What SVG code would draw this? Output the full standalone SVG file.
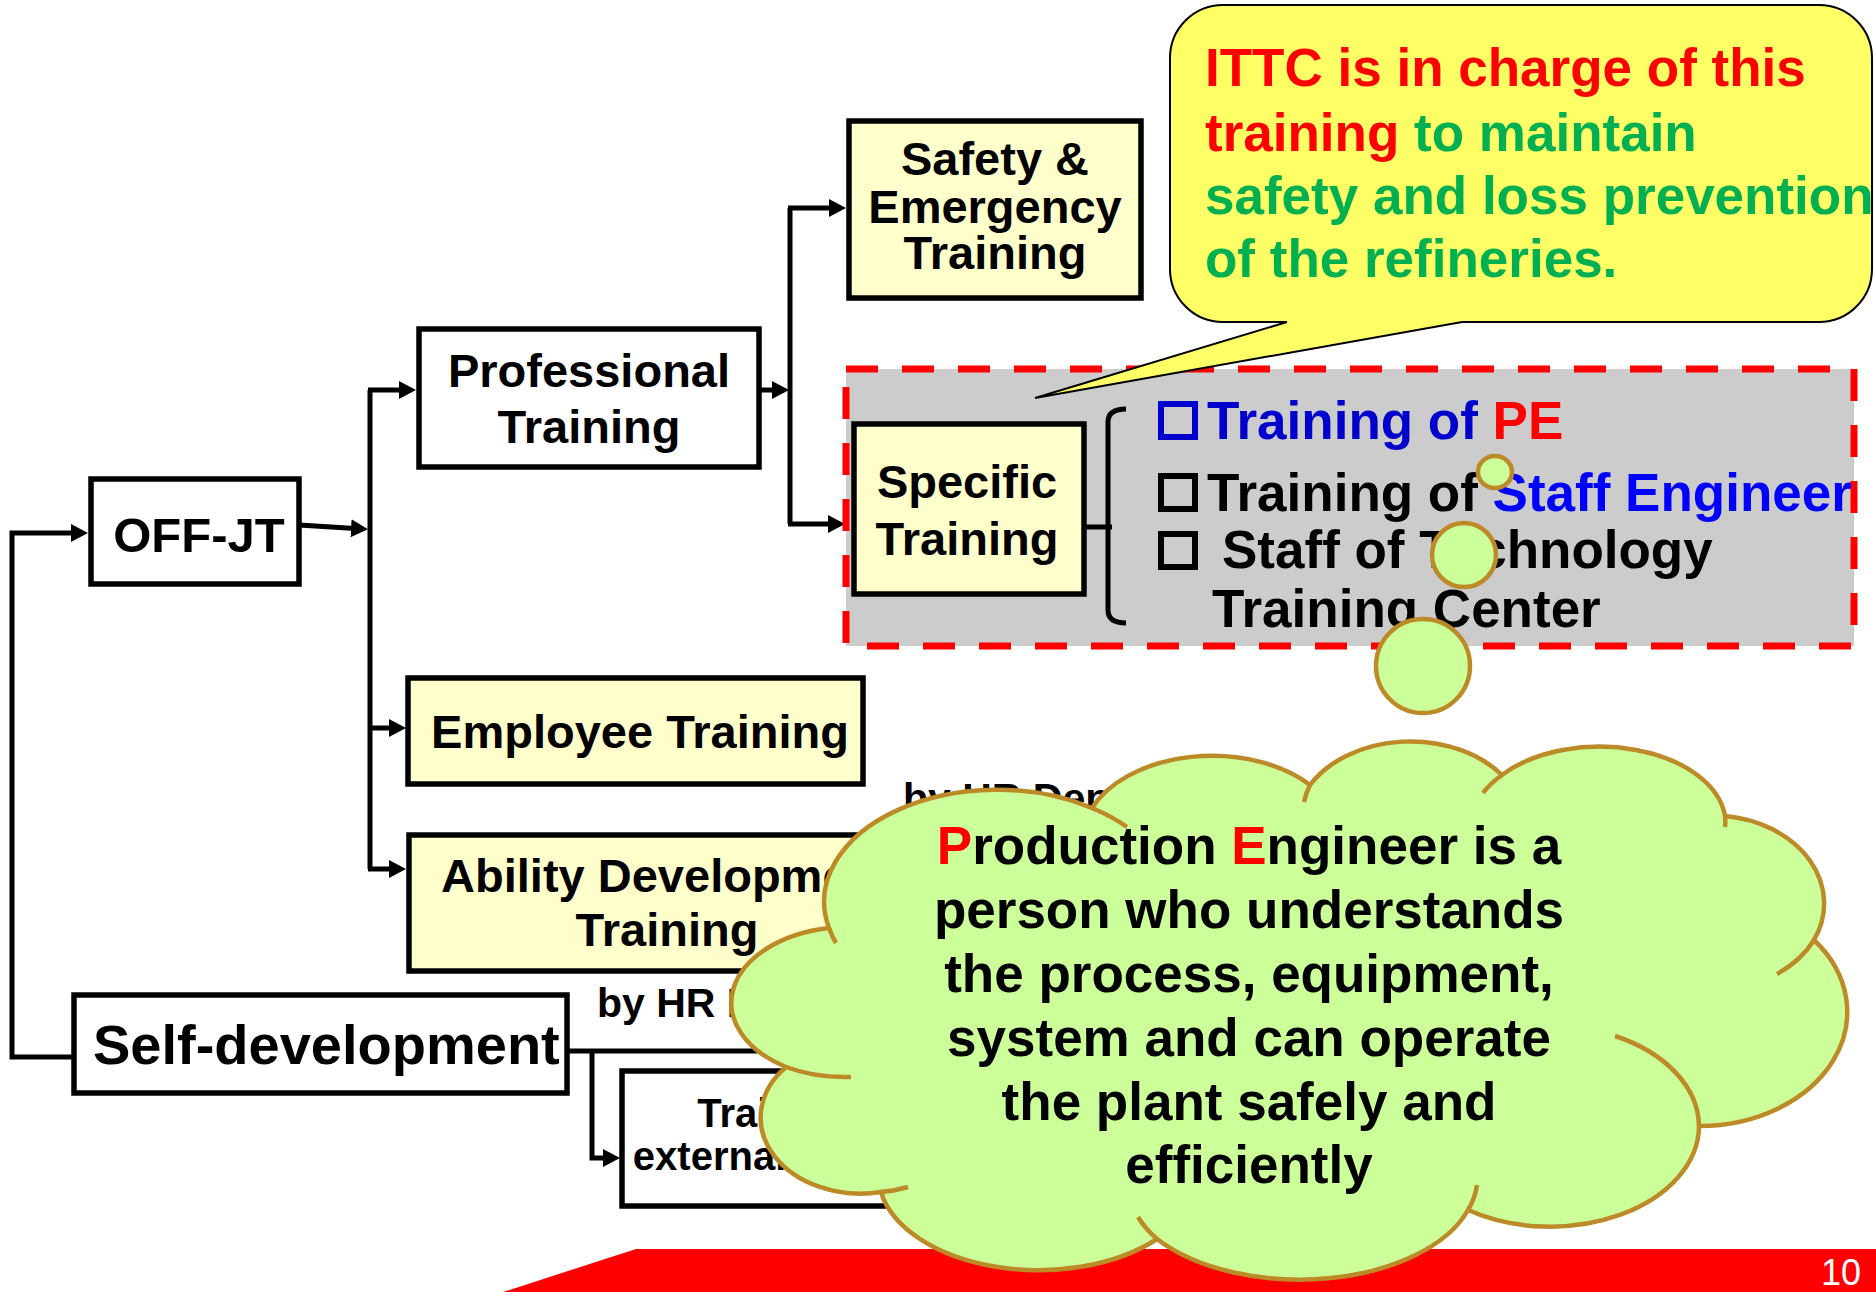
<svg xmlns="http://www.w3.org/2000/svg" width="1876" height="1292" viewBox="0 0 1876 1292">
  <defs>
    <marker id="arrow" markerUnits="userSpaceOnUse" markerWidth="18" markerHeight="18" refX="12" refY="9" orient="auto">
      <path d="M0,0 L17,9 L0,18 Z" fill="#000"/>
    </marker>
  </defs>
  <style>
    .box { stroke: #000; stroke-width: 5.5; }
    .plain { fill: #FFFFFF; }
    .pale { fill: #FFFFCC; }
    .lbl { font-family: "Liberation Sans", Arial, sans-serif; font-weight: bold; fill: #000; }
    .conn { fill: none; stroke: #000; stroke-width: 5; }
    .bubble { fill: #CCFF99; stroke: #BC8A27; stroke-width: 4.5; }
    .seam { fill: none; stroke: #BC8A27; stroke-width: 4.5; }
    .red { fill: #FF0000; }
    .green { fill: #00B050; }
  </style>

  <rect x="0" y="0" width="1876" height="1292" fill="#FFFFFF"/>

  <!-- footer band -->
  <polygon points="503,1292 636,1249 1876,1249 1876,1292" fill="#FF0000"/>

  <!-- connectors -->
  <g id="connectors">
    <path class="conn" d="M 74 1057 H 12 V 533 H 83" marker-end="url(#arrow)"/>
    <path class="conn" d="M 299 525 L 363 529" marker-end="url(#arrow)"/>
    <path class="conn" d="M 370 869 V 390"/>
    <path class="conn" d="M 368 390 H 411" marker-end="url(#arrow)"/>
    <path class="conn" d="M 368 728 H 401" marker-end="url(#arrow)"/>
    <path class="conn" d="M 368 869 H 401" marker-end="url(#arrow)"/>
    <path class="conn" d="M 759 390 H 784" marker-end="url(#arrow)"/>
    <path class="conn" d="M 790 524 V 208"/>
    <path class="conn" d="M 788 208 H 841" marker-end="url(#arrow)"/>
    <path class="conn" d="M 788 524 H 840" marker-end="url(#arrow)"/>
    <path class="conn" d="M 567 1051 H 820"/>
    <path class="conn" d="M 592 1051 V 1158 H 615" marker-end="url(#arrow)"/>
  </g>

  <!-- OFF-JT -->
  <g id="off-jt">
    <rect class="box plain" x="91" y="479" width="208" height="105"/>
    <text class="lbl" x="199" y="552" font-size="49" text-anchor="middle">OFF-JT</text>
  </g>

  <!-- Professional Training -->
  <g id="professional-training">
    <rect class="box plain" x="419" y="329" width="340" height="138"/>
    <text class="lbl" x="589" y="387" font-size="47" text-anchor="middle">Professional</text>
    <text class="lbl" x="589" y="443" font-size="47" text-anchor="middle">Training</text>
  </g>

  <!-- Safety & Emergency Training -->
  <g id="safety-emergency-training">
    <rect class="box pale" x="849" y="121" width="292" height="177"/>
    <text class="lbl" x="995" y="175" font-size="47" text-anchor="middle">Safety &amp;</text>
    <text class="lbl" x="995" y="223" font-size="47" text-anchor="middle">Emergency</text>
    <text class="lbl" x="995" y="269" font-size="47" text-anchor="middle">Training</text>
  </g>

  <!-- Specific Training area -->
  <g id="specific-area">
    <rect x="846" y="369" width="1008" height="277" fill="#CCCCCC" stroke="#FF0000" stroke-width="7" stroke-dasharray="32 24"/>
  </g>

  <g id="specific-training">
    <rect class="box pale" x="854" y="424" width="230" height="170"/>
    <text class="lbl" x="967" y="498" font-size="47" text-anchor="middle">Specific</text>
    <text class="lbl" x="967" y="555" font-size="47" text-anchor="middle">Training</text>
    <path class="conn" d="M 1084 527 H 1112"/>
    <path d="M 1126 409 Q 1108 409 1108 422 V 610 Q 1108 623 1126 623" fill="none" stroke="#000" stroke-width="5"/>
  </g>

  <g id="specific-items">
    <rect x="1161" y="404" width="34" height="33" fill="none" stroke="#0000CC" stroke-width="6"/>
    <text class="lbl" x="1207" y="439" font-size="53"><tspan fill="#0000CC">Training of </tspan><tspan fill="#FF0000">PE</tspan></text>
    <rect x="1161" y="476" width="34" height="33" fill="none" stroke="#000" stroke-width="6"/>
    <text class="lbl" x="1207" y="511" font-size="53">Training of <tspan fill="#0000FF">Staff Engineer</tspan></text>
    <rect x="1161" y="534" width="34" height="33" fill="none" stroke="#000" stroke-width="6"/>
    <text class="lbl" x="1222" y="568" font-size="53">Staff of Technology</text>
    <text class="lbl" x="1212" y="627" font-size="53">Training Center</text>
  </g>

  <!-- Employee Training -->
  <g id="employee-training">
    <rect class="box pale" x="408" y="678" width="455" height="106"/>
    <text class="lbl" x="640" y="748" font-size="47" text-anchor="middle">Employee Training</text>
  </g>

  <text class="lbl" x="903" y="812" font-size="41">by HR Dept.</text>

  <!-- Ability Development Training -->
  <g id="ability-development-training">
    <rect class="box pale" x="409" y="835" width="516" height="136"/>
    <text class="lbl" x="667" y="892" font-size="47" text-anchor="middle">Ability Development</text>
    <text class="lbl" x="667" y="946" font-size="47" text-anchor="middle">Training</text>
  </g>

  <!-- Self-development -->
  <g id="self-development">
    <rect class="box plain" x="74" y="995" width="493" height="98"/>
    <text class="lbl" x="93" y="1064" font-size="56">Self-development</text>
  </g>

  <text class="lbl" x="597" y="1017" font-size="41">by HR Dept.</text>

  <!-- External training -->
  <g id="external-training">
    <rect class="box plain" x="622" y="1071" width="364" height="135"/>
    <text class="lbl" x="804" y="1127" font-size="40" text-anchor="middle">Training by</text>
    <text class="lbl" x="804" y="1170" font-size="40" text-anchor="middle">external institutes</text>
  </g>

  <!-- ITTC callout -->
  <g id="ittc-callout">
    <path d="M 1223 5 H 1819 A 53 53 0 0 1 1872 58 V 269 A 53 53 0 0 1 1819 322 H 1462 L 1035 398 L 1287 322 H 1223 A 53 53 0 0 1 1170 269 V 58 A 53 53 0 0 1 1223 5 Z" fill="#FFFF66" stroke="#000" stroke-width="2"/>
    <text class="lbl red" x="1205" y="86" font-size="53">ITTC is in charge of this</text>
    <text class="lbl" x="1205" y="151" font-size="53"><tspan class="red">training</tspan><tspan class="green"> to maintain</tspan></text>
    <text class="lbl green" x="1205" y="214" font-size="53">safety and loss prevention</text>
    <text class="lbl green" x="1205" y="277" font-size="53">of the refineries.</text>
  </g>

  <!-- thought bubble: three small puffs and the cloud, built from eleven elliptical lobes -->
  <g id="pe-thought">
    <ellipse class="bubble" cx="1495" cy="472" rx="17" ry="16"/>
    <circle class="bubble" cx="1464" cy="555" r="32"/>
    <circle class="bubble" cx="1423" cy="666" r="47"/>
    <path class="bubble" d="M 829 928
      A 173 112 0 0 1 1092 808
      A 130 85 0 0 1 1310 785
      A 115 85 0 0 1 1502 775
      A 126 77 0 0 1 1725 816
      A 112 88 0 0 1 1814 940
      A 148 114 0 0 1 1699 1126
      A 149 101 0 0 1 1468 1210
      C 1447.8 1245.8 1393.8 1272.2 1328.2 1278.3
      C 1262.6 1284.4 1196.5 1269.2 1157 1239
      C 1116 1265.8 1053 1276.5 994.4 1266.5
      C 935.8 1256.5 891.8 1227.6 881 1192
      A 100 76 0 0 1 786 1067
      A 118 76 0 0 1 829 928 Z"/>
    <!-- inner lobe seams -->
    <path class="seam" d="M 836 943 A 173 112 0 0 1 829 928 M 1092 808 A 173 112 0 0 1 1127 827 M 1304 802 A 115 85 0 0 1 1310 785 M 1483 793 A 126 77 0 0 1 1502 775 M 1725 816 A 126 77 0 0 1 1725 827 M 1814 940 A 112 88 0 0 1 1777 974 M 1615 1036 A 149 101 0 0 1 1699 1126 M 1477 1185 A 177 100 0 0 1 1468 1210 M 1157 1239 A 177 100 0 0 1 1138 1217 M 908 1187 A 100 76 0 0 1 881 1192 M 851 1077 A 118 76 0 0 1 786 1067"/>
    <text class="lbl" x="1249" y="864" font-size="53" text-anchor="middle"><tspan class="red">P</tspan>roduction <tspan class="red">E</tspan>ngineer is a</text>
    <text class="lbl" x="1249" y="928" font-size="53" text-anchor="middle">person who understands</text>
    <text class="lbl" x="1249" y="992" font-size="53" text-anchor="middle">the process, equipment,</text>
    <text class="lbl" x="1249" y="1056" font-size="53" text-anchor="middle">system and can operate</text>
    <text class="lbl" x="1249" y="1120" font-size="53" text-anchor="middle">the plant safely and</text>
    <text class="lbl" x="1249" y="1183" font-size="53" text-anchor="middle">efficiently</text>
  </g>

  <text x="1861" y="1285" font-family="Liberation Sans, Arial, sans-serif" font-size="36" fill="#FFFFFF" text-anchor="end">10</text>
</svg>
